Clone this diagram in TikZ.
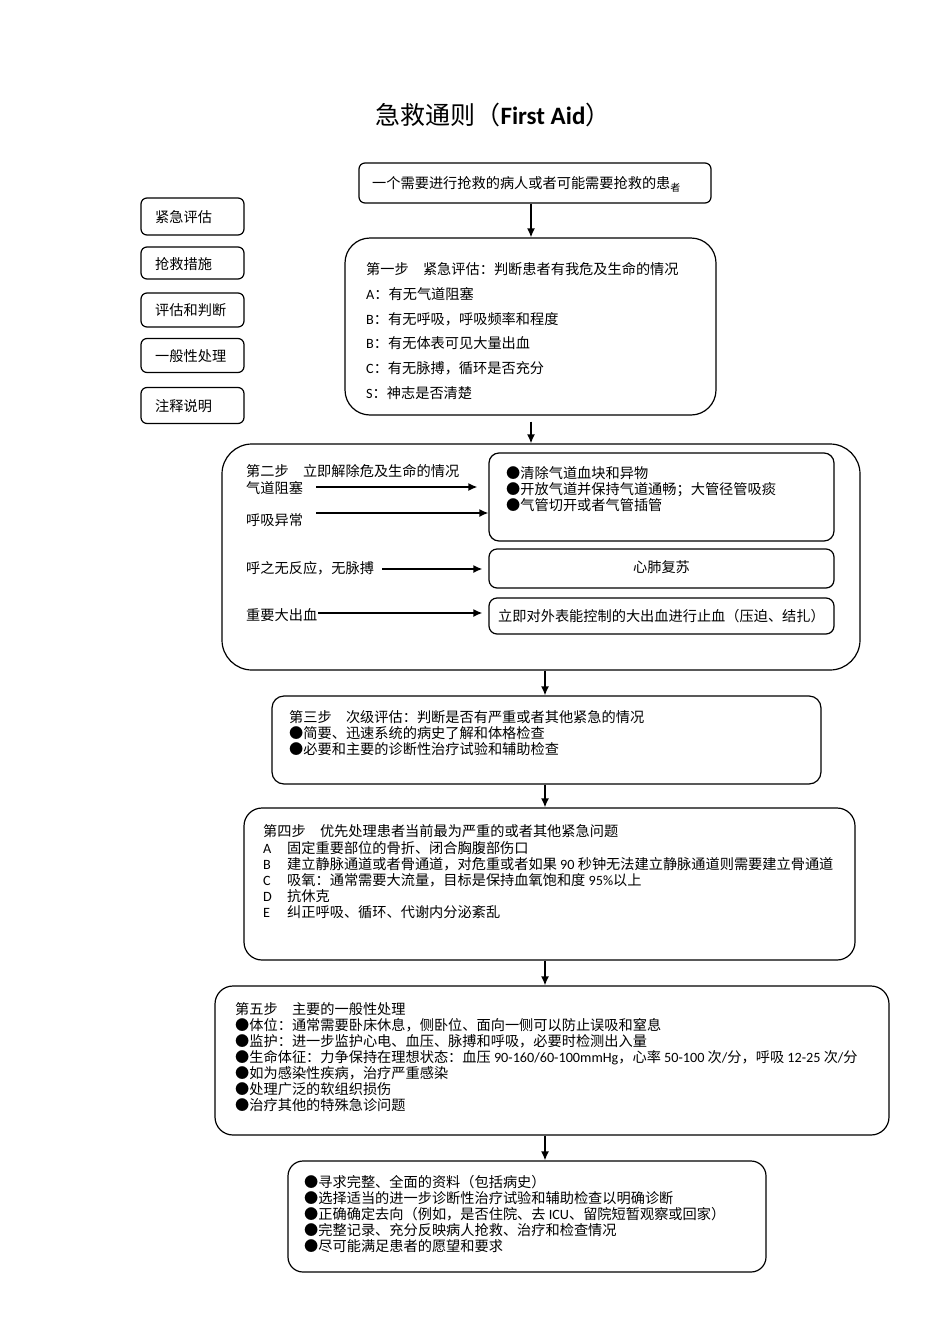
\documentclass[tikz,border=0pt]{standalone}
\usepackage{fontspec}
\setmainfont{Noto Sans CJK SC}
\newfontfamily\lat{Carlito}
\usetikzlibrary{arrows.meta}
\newcommand\fs{\fontsize{14.2}{16}\selectfont}
\tikzset{
  rbox/.style={draw, line width=1.2pt, inner sep=0pt, rounded corners=#1},
  rbox/.default=8pt,
  txt/.style={anchor=west, inner sep=0pt, font=\fs, text height=12.3pt, text depth=1.7pt},
  ctxt/.style={anchor=center, inner sep=0pt, font=\fs, text height=12.3pt, text depth=1.7pt},
  arr/.style={-{Latex[length=9pt,width=8pt]}, line width=1.5pt},
}
\begin{document}
\begin{tikzpicture}[x=1pt,y=-1pt]
\useasboundingbox[fill=white] (0,0) rectangle (950,1344);
% title
\node[inner sep=0pt, text height=21.6pt, text depth=3pt] (title) at (493,115) {\fontsize{25}{28}\selectfont 急救通则（{\lat\bfseries First Aid}）};
% top box
\node[rbox=6pt, minimum width=352pt, minimum height=40pt] (top) at (535,183) {};
\node[txt] (toptxt) at (372,183) {一个需要进行抢救的病人或者可能需要抢救的患\raisebox{-3pt}{\fontsize{10}{10}\selectfont 者}};
% legend
\node[rbox=6pt, minimum width=103pt, minimum height=37pt] (L1) at (192.5,216.5) {};
\node[txt] (L1t) at (155,217) {紧急评估};
\node[rbox=6pt, minimum width=103pt, minimum height=32pt] (L2) at (192.5,263) {};
\node[txt] (L2t) at (155,264) {抢救措施};
\node[rbox=6pt, minimum width=103pt, minimum height=34pt] (L3) at (192.5,310) {};
\node[txt] (L3t) at (155,310) {评估和判断};
\node[rbox=6pt, minimum width=103pt, minimum height=34pt] (L4) at (192.5,355.5) {};
\node[txt] (L4t) at (155,356) {一般性处理};
\node[rbox=6pt, minimum width=103pt, minimum height=36pt] (L5) at (192.5,405.5) {};
\node[txt] (L5t) at (155,406) {注释说明};
% step 1
\node[rbox=25pt, minimum width=371pt, minimum height=177pt] (s1) at (530.5,326.5) {};
\node[txt] (s1a) at (366,269) {第一步　紧急评估：判断患者有我危及生命的情况};
\node[txt] (s1b) at (366,294) {{\lat A}：有无气道阻塞};
\node[txt] (s1c) at (366,319) {{\lat B}：有无呼吸，呼吸频率和程度};
\node[txt] (s1d) at (366,343) {{\lat B}：有无体表可见大量出血};
\node[txt] (s1e) at (366,368) {{\lat C}：有无脉搏，循环是否充分};
\node[txt] (s1f) at (366,393) {{\lat S}：神志是否清楚};
% step 2
\node[rbox=30pt, minimum width=638pt, minimum height=226pt] (s2) at (541,557) {};
\node[txt] (s2t) at (246,471) {第二步　立即解除危及生命的情况};
\node[txt] (r1) at (246,488) {气道阻塞};
\node[txt] (r2) at (246,520) {呼吸异常};
\node[txt] (r3) at (246,568) {呼之无反应，无脉搏};
\node[txt] (r4) at (246,615) {重要大出血};
\node[rbox=10pt, minimum width=345pt, minimum height=88pt] (b1) at (661.5,497) {};
\node[txt] (b1a) at (506,473) {●清除气道血块和异物};
\node[txt] (b1b) at (506,489) {●开放气道并保持气道通畅；大管径管吸痰};
\node[txt] (b1c) at (506,505) {●气管切开或者气管插管};
\node[rbox=8pt, minimum width=345pt, minimum height=39pt] (b2) at (661.5,568.5) {};
\node[ctxt] (b2t) at (661.5,567) {心肺复苏};
\node[rbox=8pt, minimum width=345pt, minimum height=36pt] (b3) at (661.5,616) {};
\node[ctxt] (b3t) at (661.5,616) {立即对外表能控制的大出血进行止血（压迫、结扎）};
\coordinate (r1a) at ([xshift=13pt,yshift=1pt]r1.east);
\coordinate (r2a) at ([xshift=13pt,yshift=7pt]r2.east);
\coordinate (r3a) at ([xshift=8pt,yshift=-1pt]r3.east);
\coordinate (r4a) at ([xshift=1pt,yshift=2pt]r4.east);
\draw[arr, shorten >=11pt] (r1a) -- (r1a -| b1.west);
\draw[arr] (r2a) -- (r2a -| b1.west);
\draw[arr, shorten >=6pt] (r3a) -- (r3a -| b2.west);
\draw[arr, shorten >=6pt] (r4a) -- (r4a -| b3.west);
% step 3
\node[rbox=12pt, minimum width=549pt, minimum height=88pt] (s3) at (546.5,740) {};
\node[txt] (s3a) at (289,717) {第三步　次级评估：判断是否有严重或者其他紧急的情况};
\node[txt] (s3b) at (289,733) {●简要、迅速系统的病史了解和体格检查};
\node[txt] (s3c) at (289,749) {●必要和主要的诊断性治疗试验和辅助检查};
% step 4
\node[rbox=18pt, minimum width=611pt, minimum height=152pt] (s4) at (549.5,884) {};
\node[txt] (s4a) at (263,831) {第四步　优先处理患者当前最为严重的或者其他紧急问题};
\node[txt] (s4b) at (263,848) {\makebox[24pt][l]{\lat A}固定重要部位的骨折、闭合胸腹部伤口};
\node[txt] (s4c) at (263,864) {\makebox[24pt][l]{\lat B}建立静脉通道或者骨通道，对危重或者如果{\lat\ 90 }秒钟无法建立静脉通道则需要建立骨通道};
\node[txt] (s4d) at (263,880) {\makebox[24pt][l]{\lat C}吸氧：通常需要大流量，目标是保持血氧饱和度{\lat\ 95\%}以上};
\node[txt] (s4e) at (263,896) {\makebox[24pt][l]{\lat D}抗休克};
\node[txt] (s4f) at (263,912) {\makebox[24pt][l]{\lat E}纠正呼吸、循环、代谢内分泌紊乱};
% step 5
\node[rbox=18pt, minimum width=674pt, minimum height=149pt] (s5) at (552,1060.5) {};
\node[txt] (s5a) at (235,1009) {第五步　主要的一般性处理};
\node[txt] (s5b) at (235,1025) {●体位：通常需要卧床休息，侧卧位、面向一侧可以防止误吸和窒息};
\node[txt] (s5c) at (235,1041) {●监护：进一步监护心电、血压、脉搏和呼吸，必要时检测出入量};
\node[txt] (s5d) at (235,1057) {●生命体征：力争保持在理想状态：血压{\lat\ 90-160/60-100mmHg}，心率{\lat\ 50-100 }次{\lat /}分，呼吸{\lat\ 12-25 }次{\lat /}分};
\node[txt] (s5e) at (235,1073) {●如为感染性疾病，治疗严重感染};
\node[txt] (s5f) at (235,1089) {●处理广泛的软组织损伤};
\node[txt] (s5g) at (235,1105) {●治疗其他的特殊急诊问题};
% step 6
\node[rbox=15pt, minimum width=478pt, minimum height=111pt] (s6) at (527,1216.5) {};
\node[txt] (s6a) at (304,1182) {●寻求完整、全面的资料（包括病史）};
\node[txt] (s6b) at (304,1198) {●选择适当的进一步诊断性治疗试验和辅助检查以明确诊断};
\node[txt] (s6c) at (304,1214) {●正确确定去向（例如，是否住院、去{\lat\ ICU}、留院短暂观察或回家）};
\node[txt] (s6d) at (304,1230) {●完整记录、充分反映病人抢救、治疗和检查情况};
\node[txt] (s6e) at (304,1246) {●尽可能满足患者的愿望和要求};
% vertical arrows
\draw[arr] (top.south -| 531,0) -- (s1.north -| 531,0);
\draw[arr, shorten <=6pt] (s1.south -| 531,0) -- (s2.north -| 531,0);
\draw[arr] (s2.south -| 545,0) -- (s3.north -| 545,0);
\draw[arr] (s3.south -| 545,0) -- (s4.north -| 545,0);
\draw[arr] (s4.south -| 545,0) -- (s5.north -| 545,0);
\draw[arr] (s5.south -| 545,0) -- (s6.north -| 545,0);
\end{tikzpicture}
\end{document}
